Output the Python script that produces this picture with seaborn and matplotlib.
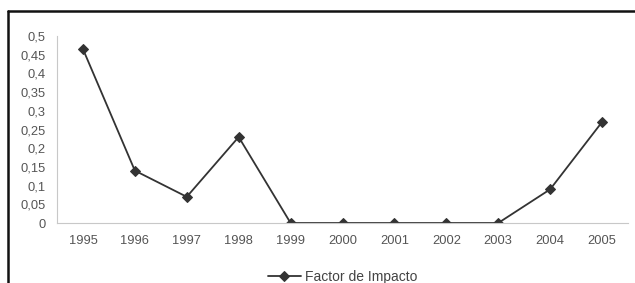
"""Factor de Impacto por año (line chart recreation)."""

import matplotlib

matplotlib.use("Agg")
import matplotlib.pyplot as plt
import numpy as np
import seaborn as sns
from matplotlib.lines import Line2D
from matplotlib.ticker import FixedLocator, FuncFormatter

years = [1995, 1996, 1997, 1998, 1999, 2000, 2001, 2002, 2003, 2004, 2005]
impact = [0.465, 0.14, 0.07, 0.23, 0.0, 0.0, 0.0, 0.0, 0.0, 0.09, 0.27]
series_label = "Factor de Impacto"

LINE = "#333333"
TICK_TXT = "#555555"
AXIS = "#c8c8c8"

sns.set_theme(style="white")
plt.rcParams["font.family"] = ["Liberation Sans", "DejaVu Sans"]

fig = plt.figure(figsize=(6.35, 2.83), dpi=100)
ax = fig.add_axes([57 / 635, 1 - 223 / 283, (628 - 57) / 635, (223 - 36) / 283])

sns.lineplot(
    x=years,
    y=impact,
    ax=ax,
    color=LINE,
    linewidth=1.3,
    marker="D",
    markersize=5.5,
    markeredgecolor=LINE,
    markerfacecolor=LINE,
    label=series_label,
)

ax.set_xlim(years[0] - 0.5, years[-1] + 0.5)
ax.set_ylim(0, 0.5)
ax.set_xticks(years)
ax.xaxis.set_minor_locator(FixedLocator(np.arange(years[0] - 0.5, years[-1] + 1.0, 1.0)))
ax.set_yticks(np.arange(0, 0.501, 0.05))
ax.yaxis.set_major_formatter(
    FuncFormatter(lambda v, _: ("%g" % round(v, 2)).replace(".", ","))
)

for side in ("top", "right"):
    ax.spines[side].set_visible(False)
for side in ("left", "bottom"):
    ax.spines[side].set_color(AXIS)
    ax.spines[side].set_linewidth(0.8)

ax.tick_params(axis="x", which="major", length=0, pad=9, labelsize=9.3, labelcolor=TICK_TXT)
ax.tick_params(axis="x", which="minor", length=4, width=0.8, color=AXIS, direction="out")
ax.tick_params(axis="y", which="major", length=3, width=0.8, color=AXIS, direction="out",
               pad=5, labelsize=9.3, labelcolor=TICK_TXT)
ax.set_xlabel("")
ax.set_ylabel("")

ax.legend(
    loc="center",
    bbox_to_anchor=(0.5 * (57 + 628) / 635 + 0.0, 1 - 277 / 283),
    bbox_transform=fig.transFigure,
    frameon=False,
    fontsize=10,
    handlelength=2.4,
    handletextpad=0.3,
    labelcolor="#444444",
)

# border of the enclosing chart box (only top and left visible in the crop)
fig.add_artist(Line2D([8 / 635, 1.0], [1 - 11 / 283] * 2, color="#111111", linewidth=1.8,
                      transform=fig.transFigure))
fig.add_artist(Line2D([8 / 635] * 2, [1 - 11 / 283, 0.0], color="#111111", linewidth=1.8,
                      transform=fig.transFigure))

fig.savefig("out.png", dpi=100)
